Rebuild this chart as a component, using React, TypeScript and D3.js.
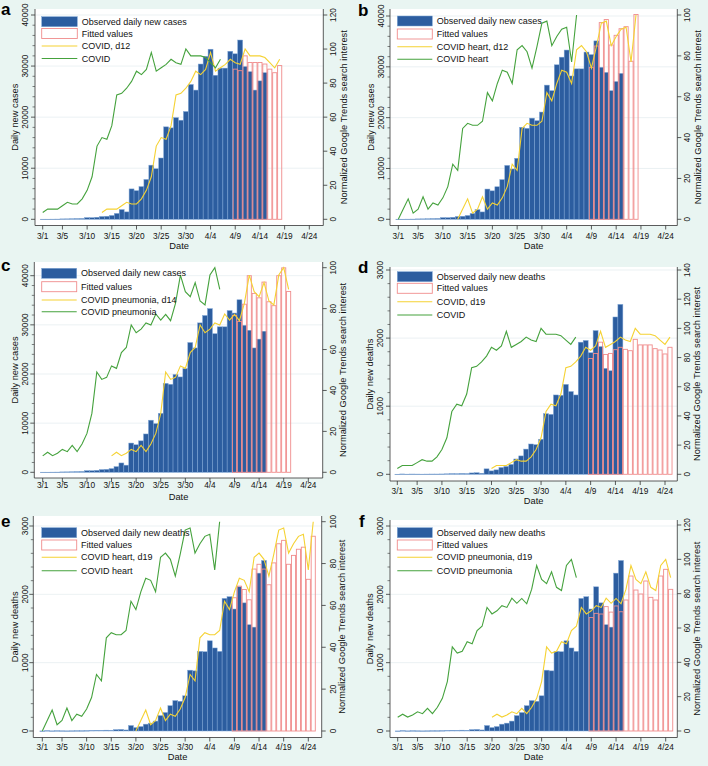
import React from "react";
import * as d3 from "d3";

// ---------- data ----------
const xTickLabels = ["3/1", "3/5", "3/10", "3/15", "3/20", "3/25", "3/30", "4/4", "4/9", "4/14", "4/19", "4/24"];
const firstDay = "3/1";
const fittedStart = "4/9";

// observed daily new cases, 3/1 .. 4/15
const dailyCases = [
  20, 20, 30, 40, 80, 90, 110, 140, 160, 330,
  320, 400, 550, 600, 750, 1150, 1900, 1450, 5950, 5600,
  6400, 7800, 10600, 9900, 12000, 18100, 17900, 19900, 19400, 21100, 26400,
  25300, 30400, 31900, 33300, 28200, 29600, 29600, 32900, 32400, 35100,
  29900, 28900, 25300, 27100, 28700,
];

// observed daily new deaths, 3/1 .. 4/15
const dailyDeaths = [
  1, 5, 2, 4, 3, 2, 3, 4, 4, 5,
  7, 10, 9, 12, 10, 20, 23, 15, 80, 50,
  65, 100, 115, 145, 225, 270, 370, 445, 435, 515, 890,
  880, 1165, 1160, 1320, 1215, 1165, 1940, 1965, 1785, 2110,
  1875, 1555, 1520, 2310, 2495,
];

// Google Trends search interest, 3/1 .. 4/6
const trendCovid = [
  4, 6, 6, 6, 8, 10, 9, 9, 12, 17,
  25, 43, 48, 47, 55, 73, 74, 77, 81, 87,
  85, 88, 98, 87, 89, 91, 94, 92, 91, 100, 96,
  96, 96, 95, 92, 89, 94,
];
const trendCovidHeart = [
  0, 5, 10, 3, 5, 11, 5, 8, 7, 10.5,
  16, 27, 24, 44.5, 47, 46, 46, 48, 62, 58,
  66.5, 73, 72, 66.5, 83, 85, 82, 74, 84.5, 96, 97,
  85, 89.5, 93, 94, 77, 100,
];
const trendCovidPneumonia = [
  8, 9.8, 8.1, 9.3, 11.2, 10.1, 13.2, 10.1, 13.8, 19,
  28.8, 49, 45.4, 46.4, 52, 50.8, 58.5, 61, 72, 68.2,
  70, 73, 72, 77.4, 74.4, 77.2, 74.1, 82.6, 96.4, 88.3, 85.8,
  92.7, 83.7, 81.8, 96.4, 100, 89.4,
];

// fitted values, starting 4/9
const fittedCasesCovid = [29400, 29100, 32000, 30700, 30700, 30700, 30400, 29400, 28700, 30100];
const fittedCasesHeart = [29900, 34100, 38700, 39300, 34300, 36200, 37500, 37900, 31100, 40300];
const fittedCasesPneumonia = [31900, 30700, 34200, 40000, 36400, 35500, 38700, 34700, 33900, 40000, 41600, 36800];
const fittedDeathsCovid = [1700, 1775, 1940, 1760, 1775, 1830, 1865, 1835, 1815, 1982, 1900, 1900, 1900, 1845, 1825, 1767, 1865];
const fittedDeathsHeart = [1950, 2120, 2070, 1920, 2370, 2440, 2370, 2140, 2460, 2740, 2790, 2440, 2570, 2660, 2690, 2220, 2850];
const fittedDeathsPneumonia = [1660, 1722, 1712, 1820, 1740, 1830, 1745, 1917, 2268, 2063, 2005, 2195, 1956, 1917, 2268, 2366, 2073];

const lags = [12, 12, 14, 19, 19, 19];
const leftTicksCases = [0, 10000, 20000, 30000, 40000];
const leftTicksDeaths = [0, 1000, 2000, 3000];

// ---------- styling ----------
const BG = "#e9f5f2";
const BAR = "#2c5d9f";
const BAR_EDGE = "#7fa6d6";
const FIT = "#f08c8c";
const YELLOW = "#f5d233";
const GREEN = "#45a23d";
const FONT = "'Liberation Sans', Arial, Helvetica, sans-serif";

function dayIndex(s: string): number {
  const [m, d] = s.split("/").map(Number);
  const [m0, d0] = firstDay.split("/").map(Number);
  const monthOffset = m === m0 ? 0 : 31;
  return monthOffset + d - d0;
}

type Geo = {
  x0: number; x54: number; axL: number; axR: number; top: number; axB: number;
  yL0: number; yLTop: number; yR0: number; yRTop: number;
  tickY: number; dateY: number;
  leftTitleX: number; leftTickX: number; rightTickX: number; rightTitleX: number;
  labelX: number; labelY: number;
  sx0: number; sx1: number; tx: number; rows: number[];
};

type PanelProps = {
  geo: Geo; label: string;
  observed: number[]; fitted: number[];
  trend: number[]; lag: number;
  leftMax: number; leftTicks: number[]; leftMinor: number;
  rightMax: number; rightStep: number;
  leftTitle: string; legend: string[];
};

function Panel(p: PanelProps) {
  const g = p.geo;
  const x = d3.scaleLinear().domain([0, 54]).range([g.x0, g.x54]);
  const dayW = (g.x54 - g.x0) / 54;
  const yL = d3.scaleLinear().domain([0, p.leftMax]).range([g.yL0, g.yLTop]);
  const yR = d3.scaleLinear().domain([0, p.rightMax]).range([g.yR0, g.yRTop]);
  const fs = dayIndex(fittedStart);

  const green = d3.line<number>().x((_, i) => x(i)).y((v) => yR(v));
  const yellow = d3.line<number>().x((_, i) => x(i + p.lag)).y((v) => yR(v));

  const minors = d3.range(0, p.leftMax + 1e-6, p.leftMinor).filter((v) => !p.leftTicks.includes(v));
  const rightTicks = d3.range(0, p.rightMax + 1e-6, p.rightStep);
  const midY = (g.top + g.axB) / 2;

  return (
    <g>
      <rect x={g.axL} y={g.top} width={g.axR - g.axL} height={g.axB - g.top} fill="#ffffff" />
      {p.leftTicks.filter((v) => v > 0).map((v) => (
        <line key={"gr" + v} x1={g.axL} x2={g.axR} y1={yL(v)} y2={yL(v)} stroke="#e6eef0" strokeWidth={0.8} />
      ))}
      {p.observed.map((v, i) => (
        <rect key={"o" + i} x={x(i) - dayW / 2} y={yL(v)} width={dayW} height={Math.max(0.5, yL(0) - yL(v))}
          fill={BAR} stroke={BAR_EDGE} strokeWidth={0.5} />
      ))}
      {p.fitted.map((v, i) => (
        <rect key={"f" + i} x={x(i + fs) - dayW / 2 + 0.4} y={yL(v)} width={dayW - 0.8} height={yL(0) - yL(v)}
          fill="none" stroke={FIT} strokeWidth={0.9} />
      ))}
      <path d={yellow(p.trend) || ""} fill="none" stroke={YELLOW} strokeWidth={1.1} />
      <path d={green(p.trend) || ""} fill="none" stroke={GREEN} strokeWidth={1.1} />

      {/* axes */}
      <line x1={g.axL} x2={g.axL} y1={g.top} y2={g.axB} stroke="#333" strokeWidth={0.8} />
      <line x1={g.axR} x2={g.axR} y1={g.top} y2={g.axB} stroke="#333" strokeWidth={0.8} />
      <line x1={g.axL} x2={g.axR} y1={g.axB} y2={g.axB} stroke="#333" strokeWidth={0.8} />
      {p.leftTicks.map((v) => (
        <g key={"lt" + v}>
          <line x1={g.axL - 4} x2={g.axL} y1={yL(v)} y2={yL(v)} stroke="#333" strokeWidth={0.8} />
          <text transform={`translate(${g.leftTickX},${yL(v)}) rotate(-90)`} textAnchor="middle" dy="0.35em"
            fontSize={8.3} fontFamily={FONT} fill="#111">{v}</text>
        </g>
      ))}
      {minors.map((v) => (
        <line key={"lm" + v} x1={g.axL - 2.5} x2={g.axL} y1={yL(v)} y2={yL(v)} stroke="#333" strokeWidth={0.6} />
      ))}
      {rightTicks.map((v) => (
        <g key={"rt" + v}>
          <line x1={g.axR} x2={g.axR + 4} y1={yR(v)} y2={yR(v)} stroke="#333" strokeWidth={0.8} />
          <text transform={`translate(${g.rightTickX},${yR(v)}) rotate(-90)`} textAnchor="middle" dy="0.35em"
            fontSize={8.3} fontFamily={FONT} fill="#111">{v}</text>
        </g>
      ))}
      {xTickLabels.map((t) => (
        <g key={"xt" + t}>
          <line x1={x(dayIndex(t))} x2={x(dayIndex(t))} y1={g.axB} y2={g.axB + 4} stroke="#333" strokeWidth={0.8} />
          <text x={x(dayIndex(t))} y={g.tickY} textAnchor="middle" dy="0.35em" fontSize={8.3} fontFamily={FONT} fill="#111">{t}</text>
        </g>
      ))}
      <text x={(g.axL + g.axR) / 2} y={g.dateY} textAnchor="middle" dy="0.35em" fontSize={9.3} fontFamily={FONT} fill="#111">Date</text>
      <text transform={`translate(${g.leftTitleX},${midY}) rotate(-90)`} textAnchor="middle" dy="0.35em"
        fontSize={9.3} fontFamily={FONT} fill="#111">{p.leftTitle}</text>
      <text transform={`translate(${g.rightTitleX},${midY}) rotate(-90)`} textAnchor="middle" dy="0.35em"
        fontSize={9.3} fontFamily={FONT} fill="#111">Normalized Google Trends search interest</text>

      {/* legend */}
      <rect x={g.sx0} y={g.rows[0] - 5} width={g.sx1 - g.sx0} height={10} fill={BAR} stroke={BAR_EDGE} strokeWidth={0.5} />
      <rect x={g.sx0} y={g.rows[1] - 5} width={g.sx1 - g.sx0} height={10} fill="#fff" stroke={FIT} strokeWidth={0.9} />
      <line x1={g.sx0} x2={g.sx1} y1={g.rows[2]} y2={g.rows[2]} stroke={YELLOW} strokeWidth={1.1} />
      <line x1={g.sx0} x2={g.sx1} y1={g.rows[3]} y2={g.rows[3]} stroke={GREEN} strokeWidth={1.1} />
      {p.legend.map((t, i) => (
        <text key={"lg" + i} x={g.tx} y={g.rows[i]} dy="0.35em" fontSize={9} fontFamily={FONT} fill="#111">{t}</text>
      ))}

      <text x={g.labelX} y={g.labelY} fontSize={17} fontWeight="bold" fontFamily={FONT} fill="#000">{p.label}</text>
    </g>
  );
}

const geoA: Geo = { x0: 42.7, x54: 309.3, axL: 35, axR: 323.3, top: 9, axB: 225.5, yL0: 219.3, yLTop: 15, yR0: 219.3, yRTop: 15,
  tickY: 236.5, dateY: 245.5, leftTitleX: 15, leftTickX: 25, rightTickX: 333, rightTitleX: 343.3, labelX: 1, labelY: 15,
  sx0: 41.7, sx1: 77.3, tx: 81.7, rows: [21.7, 33.5, 46, 58.5] };
const geoB: Geo = { x0: 398.3, x54: 665.7, axL: 390, axR: 677.3, top: 9, axB: 225.5, yL0: 219.3, yLTop: 16, yR0: 219.3, yRTop: 15,
  tickY: 236.5, dateY: 245.5, leftTitleX: 370.7, leftTickX: 380.7, rightTickX: 687.3, rightTitleX: 697.3, labelX: 358, labelY: 16,
  sx0: 397.3, sx1: 432.3, tx: 436.7, rows: [21, 34, 46.7, 59.3] };
const geoC: Geo = { x0: 42.7, x54: 308.3, axL: 34.3, axR: 322.7, top: 262, axB: 478, yL0: 472.3, yLTop: 275.7, yR0: 472.3, yRTop: 267.7,
  tickY: 485.5, dateY: 497, leftTitleX: 15, leftTickX: 25, rightTickX: 333, rightTitleX: 342.7, labelX: 1, labelY: 271,
  sx0: 41.7, sx1: 76.7, tx: 81, rows: [273.3, 286.7, 300, 311.7] };
const geoD: Geo = { x0: 397.3, x54: 665, axL: 390, axR: 677.3, top: 267, axB: 481, yL0: 474.3, yLTop: 270, yR0: 474.3, yRTop: 270,
  tickY: 491.5, dateY: 501, leftTitleX: 370, leftTickX: 380, rightTickX: 687.3, rightTitleX: 696.7, labelX: 358, labelY: 273,
  sx0: 397.3, sx1: 432.3, tx: 436.7, rows: [276.7, 288.3, 301.7, 315] };
const geoE: Geo = { x0: 42.3, x54: 308.3, axL: 33.3, axR: 321.7, top: 516, axB: 737.5, yL0: 731, yLTop: 526, yR0: 731, yRTop: 521.7,
  tickY: 747, dateY: 756.7, leftTitleX: 15, leftTickX: 25, rightTickX: 332.7, rightTitleX: 341.7, labelX: 1, labelY: 527,
  sx0: 41.7, sx1: 76.7, tx: 81, rows: [532.7, 545, 557.3, 570.7] };
const geoF: Geo = { x0: 397.7, x54: 665.7, axL: 390, axR: 677.3, top: 520, axB: 737.5, yL0: 731, yLTop: 526, yR0: 731, yRTop: 525,
  tickY: 747, dateY: 756.7, leftTitleX: 370, leftTickX: 380, rightTickX: 687.3, rightTitleX: 696.7, labelX: 359, labelY: 527,
  sx0: 397.3, sx1: 432.3, tx: 436.7, rows: [532.7, 545, 557.3, 570.7] };

export default function App() {
  return (
    <svg width={708} height={766} style={{ position: "absolute", left: 0, top: 0 }}>
      <rect x={0} y={0} width={708} height={766} fill={BG} />
      <Panel geo={geoA} label="a" observed={dailyCases} fitted={fittedCasesCovid} trend={trendCovid} lag={lags[0]}
        leftMax={40000} leftTicks={leftTicksCases} leftMinor={2000} rightMax={120} rightStep={20}
        leftTitle="Daily new cases" legend={["Observed daily new cases", "Fitted values", "COVID, d12", "COVID"]} />
      <Panel geo={geoB} label="b" observed={dailyCases} fitted={fittedCasesHeart} trend={trendCovidHeart} lag={lags[1]}
        leftMax={40000} leftTicks={leftTicksCases} leftMinor={2000} rightMax={100} rightStep={20}
        leftTitle="Daily new cases" legend={["Observed daily new cases", "Fitted values", "COVID heart, d12", "COVID heart"]} />
      <Panel geo={geoC} label="c" observed={dailyCases} fitted={fittedCasesPneumonia} trend={trendCovidPneumonia} lag={lags[2]}
        leftMax={40000} leftTicks={leftTicksCases} leftMinor={2000} rightMax={100} rightStep={20}
        leftTitle="Daily new cases" legend={["Observed daily new cases", "Fitted values", "COVID pneumonia, d14", "COVID pneumonia"]} />
      <Panel geo={geoD} label="d" observed={dailyDeaths} fitted={fittedDeathsCovid} trend={trendCovid} lag={lags[3]}
        leftMax={3000} leftTicks={leftTicksDeaths} leftMinor={200} rightMax={140} rightStep={20}
        leftTitle="Daily new deaths" legend={["Observed daily new deaths", "Fitted values", "COVID, d19", "COVID"]} />
      <Panel geo={geoE} label="e" observed={dailyDeaths} fitted={fittedDeathsHeart} trend={trendCovidHeart} lag={lags[4]}
        leftMax={3000} leftTicks={leftTicksDeaths} leftMinor={200} rightMax={100} rightStep={20}
        leftTitle="Daily new deaths" legend={["Observed daily new deaths", "Fitted values", "COVID heart, d19", "COVID heart"]} />
      <Panel geo={geoF} label="f" observed={dailyDeaths} fitted={fittedDeathsPneumonia} trend={trendCovidPneumonia} lag={lags[5]}
        leftMax={3000} leftTicks={leftTicksDeaths} leftMinor={200} rightMax={120} rightStep={20}
        leftTitle="Daily new deaths" legend={["Observed daily new deaths", "Fitted values", "COVID pneumonia, d19", "COVID pneumonia"]} />
    </svg>
  );
}
